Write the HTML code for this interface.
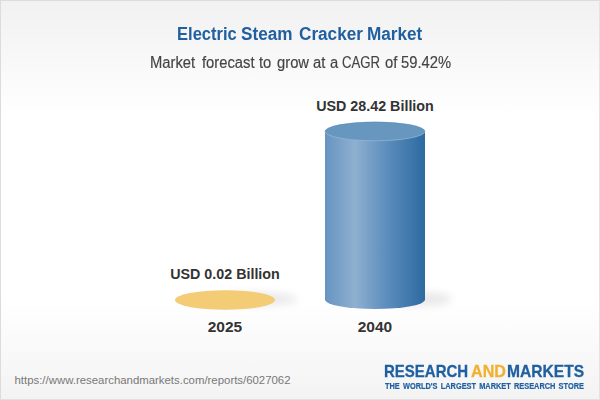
<!DOCTYPE html>
<html><head><meta charset="utf-8">
<style>
html,body{margin:0;padding:0;}
body{width:600px;height:400px;position:relative;overflow:hidden;font-family:"Liberation Sans",sans-serif;
background:linear-gradient(to bottom,#f1f1f1 0px,#ffffff 120px,#ffffff 300px,#f3f3f3 400px);}
.frame{position:absolute;left:0;top:0;width:598px;height:398px;border:1px solid #dcdcdc;border-right-color:#e3e3e3;border-bottom-color:#e0e0e0;}
.t{position:absolute;white-space:nowrap;line-height:1;}
#title{left:0;top:26px;font-size:17.5px;font-weight:bold;color:#2060a0;}
#title span{position:absolute;top:0;transform-origin:0 0;transform:scaleX(0.98);}
#sub{left:0;top:54px;font-size:15px;color:#444;-webkit-text-stroke:0.15px #444;}
#sub span{position:absolute;top:0;transform-origin:0 0;transform:scale(0.985,1.04);}
.lbl{font-size:14.3px;font-weight:bold;color:#333;text-align:center;width:200px;}
.yr{font-size:15.5px;font-weight:bold;color:#333;text-align:center;width:200px;}
.logo{top:363.2px;transform-origin:0 0;font-size:15px;font-weight:bold;color:#1f60a0;-webkit-text-stroke:0.25px #1f60a0;}
#url{left:14.5px;top:375px;font-size:11.4px;color:#787878;}
</style></head><body>
<div class="frame"></div>
<div class="t" id="title"><span style="left:177px;transform:scaleX(0.945)">Electric</span><span style="left:240.78px">Steam</span><span style="left:298.9px">Cracker</span><span style="left:367.07px">Market</span></div>
<div class="t" id="sub"><span style="left:149.65px">Market</span><span style="left:201.66px">forecast</span><span style="left:259.34px">to</span><span style="left:276.50px">grow</span><span style="left:312.61px">at</span><span style="left:329.6px">a</span><span style="left:342.3px;transform:scale(0.88,1.04)">CAGR</span><span style="left:384.85px">of</span><span style="left:400.64px">59.42%</span></div>
<div class="t lbl" style="left:275px;top:99px">USD 28.42 Billion</div>
<div class="t lbl" style="left:125px;top:266.5px">USD 0.02 Billion</div>
<div class="t yr" style="left:125px;top:319px">2025</div>
<div class="t yr" style="left:275px;top:319px">2040</div>
<div class="t" id="url">https://www.researchandmarkets.com/reports/6027062</div>
<svg width="600" height="400" style="position:absolute;left:0;top:0">
<defs>
<linearGradient id="cyl" x1="0" x2="1" y1="0" y2="0">
<stop offset="0" stop-color="#6694c1"/>
<stop offset="0.3" stop-color="#8fb0d0"/>
<stop offset="0.6" stop-color="#5e8fbe"/>
<stop offset="1" stop-color="#2c6aa0"/>
</linearGradient>
<filter id="blur" x="-50%" y="-50%" width="200%" height="200%"><feGaussianBlur stdDeviation="4"/></filter>
</defs>
<ellipse cx="254" cy="299" rx="44" ry="6.5" fill="#000" opacity="0.09" filter="url(#blur)"/>
<ellipse cx="225" cy="300" rx="50" ry="9.75" fill="#f3cc75"/>
<ellipse cx="418" cy="299" rx="34" ry="7" fill="#000" opacity="0.09" filter="url(#blur)"/>
<path d="M325 131.3 L325 299.5 A50 9.5 0 0 0 425 299.5 L425 131.3 Z" fill="url(#cyl)"/>
<ellipse cx="375" cy="131.3" rx="50" ry="9.5" fill="#6797bf"/>
<path d="M325 131.3 A50 9.5 0 0 0 425 131.3" fill="none" stroke="#9bbcd8" stroke-width="0.9" opacity="0.7"/>
<path d="M325.3 131.3 A49.7 9.2 0 0 1 424.7 131.3" fill="none" stroke="#5187b8" stroke-width="0.7" opacity="0.6"/>
</svg>
<div class="t logo" style="left:384px;transform:scale(1.0,1.07)">RESEARCH</div>
<div class="t logo" style="left:471px;transform:scale(1.075,1.07);color:#f2b02f;-webkit-text-stroke:0.25px #f2b02f">AND</div>
<div class="t logo" style="left:507px;transform:scale(1.04,1.07)">MARKETS</div>
<div class="t" style="left:385px;top:382px;font-size:9px;font-weight:bold;color:#1f60a0;word-spacing:1.3px;transform:scaleX(0.822);transform-origin:0 0;-webkit-text-stroke:0.2px #1f60a0">THE WORLD'S LARGEST MARKET RESEARCH STORE</div>
</body></html>
